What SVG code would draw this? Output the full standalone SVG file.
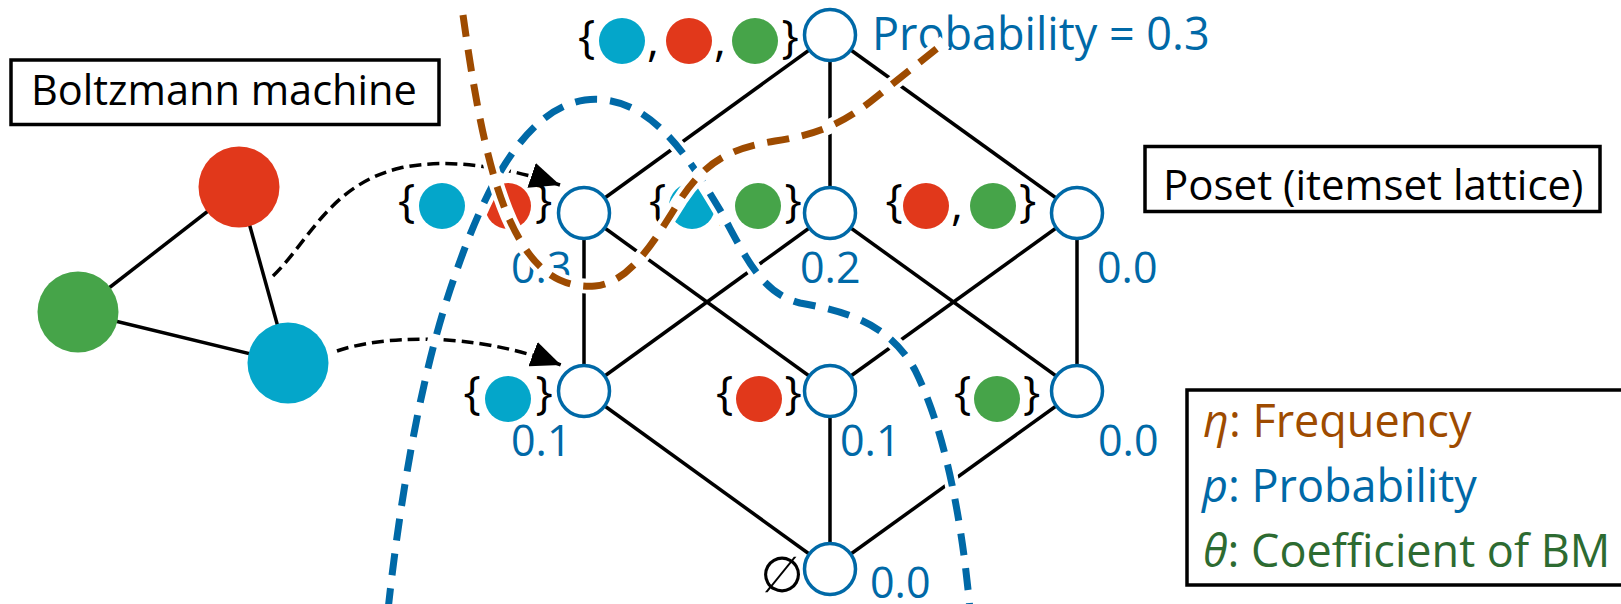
<svg xmlns="http://www.w3.org/2000/svg" width="1621" height="604" viewBox="0 0 1621 604">
  <defs>
    <style>
      .txt { font-family: "Open Sans", "Liberation Sans", sans-serif; }
      .box { fill: #ffffff; stroke: #000000; stroke-width: 3.5; }
      .edge { stroke: #000000; stroke-width: 3.5; fill: none; }
      .lnode { fill: #ffffff; stroke: #0069a7; stroke-width: 3.5; }
      .brace { font-family: "Open Sans", "Liberation Sans", sans-serif; font-size: 46px; fill: #000000; text-anchor: middle; }
      .num { font-family: "Open Sans", "Liberation Sans", sans-serif; font-size: 43px; fill: #0069a7; }
      .c { fill: #04a6ca; }
      .r { fill: #e1381b; }
      .g { fill: #46a449; }
      .arrow { fill: none; stroke: #000000; stroke-width: 3.5; stroke-dasharray: 12 6; }
      .casing { fill: none; stroke: #ffffff; stroke-width: 15; }
      .blue-dash { fill: none; stroke: #0069a7; stroke-width: 7; stroke-dasharray: 22 13; }
      .brown-dash { fill: none; stroke: #9e4b00; stroke-width: 7; stroke-dasharray: 22 13; }
    </style>
    <marker id="head" viewBox="0 0 30 26" refX="30" refY="13" markerWidth="30" markerHeight="26" markerUnits="userSpaceOnUse" orient="auto">
      <path d="M0,0 L30,13 L0,26 Z" fill="#000000"/>
    </marker>
  </defs>

  <!-- title boxes -->
  <g id="bm-title">
    <rect class="box" x="11" y="60" width="428" height="64.5"/>
    <text class="txt" x="31" y="105" font-size="41.5">Boltzmann machine</text>
  </g>
  <g id="poset-title">
    <rect class="box" x="1145" y="146.5" width="455" height="65"/>
    <text class="txt" x="1163" y="200" font-size="42">Poset (itemset lattice)</text>
  </g>

  <!-- Boltzmann machine graph -->
  <g id="bm-edges">
    <line class="edge" x1="239" y1="187" x2="78" y2="312"/>
    <line class="edge" x1="239" y1="187" x2="288" y2="363"/>
    <line class="edge" x1="78" y1="312" x2="288" y2="363"/>
  </g>
  <g id="bm-red"><circle class="r" cx="239" cy="187" r="40.5"/></g>
  <g id="bm-green"><circle class="g" cx="78" cy="312" r="40.5"/></g>
  <g id="bm-cyan"><circle class="c" cx="288" cy="363" r="40.5"/></g>

  <!-- lattice edges -->
  <g id="lattice-edges">
    <line class="edge" x1="830" y1="35" x2="584" y2="213"/>
    <line class="edge" x1="830" y1="35" x2="830" y2="213"/>
    <line class="edge" x1="830" y1="35" x2="1077" y2="213"/>
    <line class="edge" x1="584" y1="213" x2="584" y2="391"/>
    <line class="edge" x1="584" y1="213" x2="830" y2="391"/>
    <line class="edge" x1="830" y1="213" x2="584" y2="391"/>
    <line class="edge" x1="830" y1="213" x2="1077" y2="391"/>
    <line class="edge" x1="1077" y1="213" x2="830" y2="391"/>
    <line class="edge" x1="1077" y1="213" x2="1077" y2="391"/>
    <line class="edge" x1="584" y1="391" x2="830" y2="569"/>
    <line class="edge" x1="830" y1="391" x2="830" y2="569"/>
    <line class="edge" x1="1077" y1="391" x2="830" y2="569"/>
  </g>

  <!-- lattice nodes with their itemset labels -->
  <g id="set-crg">
    <circle class="lnode" cx="830" cy="35" r="25.5"/>
    <text class="brace" x="586.5" y="53">{</text>
    <circle class="c" cx="622" cy="41" r="23"/>
    <text class="brace" x="653" y="56">,</text>
    <circle class="r" cx="689" cy="41" r="23"/>
    <text class="brace" x="720" y="56">,</text>
    <circle class="g" cx="755" cy="41" r="23"/>
    <text class="brace" x="790" y="53">}</text>
    <text class="txt" x="872" y="50" font-size="45" fill="#0069a7">Probability = 0.3</text>
  </g>
  <g id="set-cr">
    <circle class="lnode" cx="584" cy="213" r="25.5"/>
    <text class="brace" x="406.5" y="217">{</text>
    <circle class="c" cx="442" cy="206" r="23"/>
    <circle class="r" cx="508" cy="206" r="23"/>
    <text class="brace" x="543.5" y="217">}</text>
    <text class="num" x="511" y="283">0.3</text>
  </g>
  <g id="set-cg">
    <circle class="lnode" cx="830" cy="213" r="25.5"/>
    <text class="brace" x="657.5" y="217">{</text>
    <circle class="c" cx="692" cy="206" r="23"/>
    <text class="brace" x="724" y="220">,</text>
    <circle class="g" cx="758" cy="206" r="23"/>
    <text class="brace" x="793" y="217">}</text>
    <text class="num" x="800" y="283">0.2</text>
  </g>
  <g id="set-rg">
    <circle class="lnode" cx="1077" cy="213" r="25.5"/>
    <text class="brace" x="894" y="217">{</text>
    <circle class="r" cx="926" cy="206" r="23"/>
    <text class="brace" x="957" y="220">,</text>
    <circle class="g" cx="993" cy="206" r="23"/>
    <text class="brace" x="1027.5" y="217">}</text>
    <text class="num" x="1097" y="283">0.0</text>
  </g>
  <g id="set-c">
    <circle class="lnode" cx="584" cy="391" r="25.5"/>
    <text class="brace" x="472" y="409">{</text>
    <circle class="c" cx="508" cy="399" r="23"/>
    <text class="brace" x="544" y="409">}</text>
    <text class="num" x="511" y="456">0.1</text>
  </g>
  <g id="set-r">
    <circle class="lnode" cx="830" cy="391" r="25.5"/>
    <text class="brace" x="724.5" y="409">{</text>
    <circle class="r" cx="759" cy="399" r="23"/>
    <text class="brace" x="793" y="409">}</text>
    <text class="num" x="840" y="456">0.1</text>
  </g>
  <g id="set-g">
    <circle class="lnode" cx="1077" cy="391" r="25.5"/>
    <text class="brace" x="962.5" y="409">{</text>
    <circle class="g" cx="997" cy="399" r="23"/>
    <text class="brace" x="1031.5" y="409">}</text>
    <text class="num" x="1098" y="456">0.0</text>
  </g>
  <g id="set-empty">
    <circle class="lnode" cx="830" cy="569" r="25.5"/>
    <text x="782" y="592" font-family="DejaVu Sans, sans-serif" font-size="50" text-anchor="middle" fill="#000000">∅</text>
    <text class="num" x="870" y="598">0.0</text>
  </g>

  <!-- mapping arrows from the machine onto the lattice -->
  <g id="connectors">
    <path class="arrow" d="M273,276 C310,240 330,185 400,168 C450,157 510,168 560,185" marker-end="url(#head)"/>
    <path class="arrow" d="M337,351 C380,336 470,330 561,365" marker-end="url(#head)"/>
  </g>

  <!-- probability and frequency boundaries -->
  <g id="boundary-p">
    <path class="casing" d="M388,610 C400,500 420,380 450,290 C480,200 520,110 585,100 C650,92 690,160 720,210 C745,255 760,293 800,303 C850,312 890,325 915,370 C945,430 962,520 970,610"/>
    <path class="blue-dash" d="M388,610 C400,500 420,380 450,290 C480,200 520,110 585,100 C650,92 690,160 720,210 C745,255 760,293 800,303 C850,312 890,325 915,370 C945,430 962,520 970,610"/>
  </g>
  <g id="boundary-eta">
    <path class="casing" d="M463,15 C475,100 490,190 520,240 C540,275 565,288 595,286 C630,283 655,240 680,200 C705,162 730,148 775,141 C815,135 840,125 870,102 L945,42"/>
    <path class="brown-dash" d="M463,15 C475,100 490,190 520,240 C540,275 565,288 595,286 C630,283 655,240 680,200 C705,162 730,148 775,141 C815,135 840,125 870,102 L945,42"/>
  </g>

  <!-- legend -->
  <g id="legend">
    <rect class="box" x="1187" y="390" width="440" height="195"/>
    <text class="txt" x="1203" y="437" font-size="45" fill="#9e4b00"><tspan font-style="italic">η</tspan>: Frequency</text>
    <text class="txt" x="1202" y="502" font-size="45" fill="#0069a7"><tspan font-style="italic">p</tspan>: Probability</text>
    <text class="txt" x="1203" y="567" font-size="45" fill="#2d6b31"><tspan font-style="italic">θ</tspan>: Coefficient of BM</text>
  </g>
</svg>
